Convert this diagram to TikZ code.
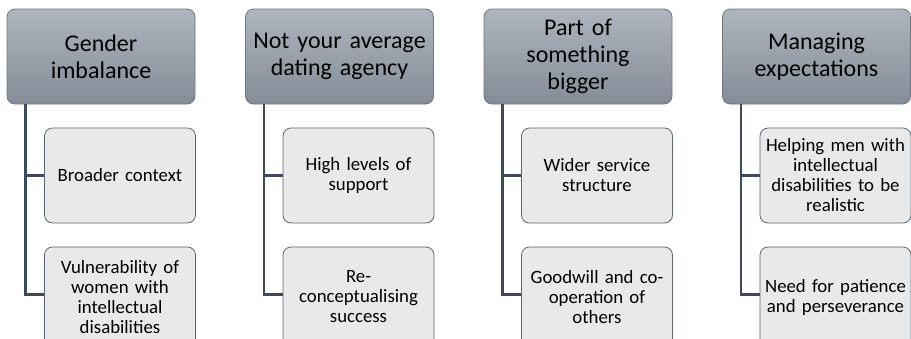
\documentclass[tikz,border=0pt]{standalone}
\usepackage{fontspec}
\setmainfont{Carlito}
\usetikzlibrary{calc}
\definecolor{headtop}{HTML}{AEB5BE}
\definecolor{headbot}{HTML}{848C97}
\definecolor{headline}{HTML}{6E7783}
\definecolor{itemfill}{HTML}{E9E9E9}
\definecolor{itemline}{HTML}{5B6775}
\definecolor{linkcol}{HTML}{3E4A5C}
\tikzset{
 heading/.style={draw=headline, line width=.8pt, rounded corners=8pt, top color=headtop, bottom color=headbot,
  minimum width=188pt, minimum height=95pt, text width=184pt, align=center, inner sep=0pt,
  font=\fontsize{24}{27}\selectfont},
 item/.style={draw=itemline, line width=.8pt, rounded corners=8pt, fill=itemfill,
  minimum width=151pt, minimum height=95pt, text width=149pt, align=center, inner sep=0pt,
  font=\fontsize{18.8}{20}\selectfont},
 lowitem/.style={item, minimum height=100pt},
 link/.style={draw=linkcol, line width=2.4pt}
}
\begin{document}
\begin{tikzpicture}[x=1pt, y=1pt]
\clip (0,0) rectangle (911,-338);
\fill[white] (0,0) rectangle (911,-338);
\node[heading] (h1) at (101,-56.5) {Gender\\imbalance};
\node[heading] (h2) at (339.5,-56.5) {Not your average\\dating agency};
\node[heading] (h3) at (578,-56.5) {Part of\\something\\bigger};
\node[heading] (h4) at (816.5,-56.5) {Managing\\expectations};
\node[item] (a1) at (120,-175.5) {Broader context};
\node[lowitem] (b1) at (120,-297) {Vulnerability of\\women with\\intellectual\\disabilities};
\node[item] (a2) at (358.5,-175.5) {High levels of\\support};
\node[lowitem] (b2) at (358.5,-297) {Re-\\conceptualising\\success};
\node[item] (a3) at (597,-175.5) {Wider service\\structure};
\node[lowitem] (b3) at (597,-297) {Goodwill and co-\\operation of\\others};
\node[item] (a4) at (835.5,-175.5) {Helping men with\\intellectual\\disabilities to be\\realistic};
\node[lowitem] (b4) at (835.5,-297) {Need for patience\\and perseverance};
\foreach \i in {1,...,4} {
 \draw[link] ([xshift=19pt]h\i.south west) |- (a\i.west);
 \draw[link] ([xshift=19pt]h\i.south west) |- ([yshift=2.5pt]b\i.west);
}
\end{tikzpicture}
\end{document}
